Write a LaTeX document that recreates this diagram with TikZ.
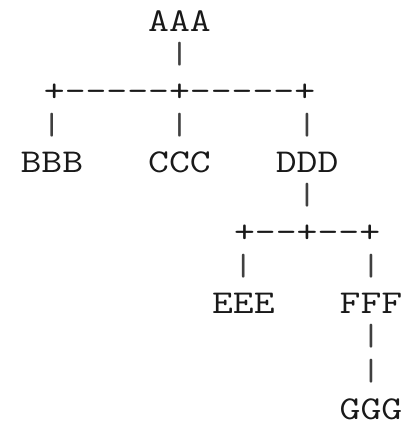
\documentclass[tikz,border=0pt]{standalone}
\usepackage{fontspec}
\usepackage{tikz}

\newcommand{\widetype}[1]{\scalebox{1.217}[1]{#1}}
\tikzset{
    ascii/.style={font=\ttfamily\fontsize{17pt}{18pt}\selectfont,inner sep=0pt,anchor=base,text=black!90},
    bar/.style={ascii,yshift=1.5pt,text=black!75}
}

\begin{document}
\begin{tikzpicture}[x={(10.86pt,0pt)},y={(0pt,-18pt)}]%
        \useasboundingbox (-0.44,-0.889) rectangle (18.77,11.25);
        % names
        \node[ascii] (aaa) at (8,0) {\widetype{AAA}};
        \node[ascii] (bbb) at (2,4) {\widetype{BBB}};
        \node[ascii] (ccc) at (8,4) {\widetype{CCC}};
        \node[ascii] (ddd) at (14,4) {\widetype{DDD}};
        \node[ascii] (eee) at (11,8) {\widetype{EEE}};
        \node[ascii] (fff) at (17,8) {\widetype{FFF}};
        \node[ascii] (ggg) at (17,11) {\widetype{GGG}};
        % branches
        \node[ascii] (split1) at (8,2) {\widetype{+-----+-----+}};
        \node[ascii] (split2) at (14,6) {\widetype{+--+--+}};
        \foreach \c/\r [count=\i] in {8/1,2/3,8/3,14/3,14/5,11/7,17/7,17/9,17/10}
            \node[bar] (bar\i) at (\c,\r) {\scalebox{1.217}[0.92]{|}};
    \end{tikzpicture}
\end{document}
